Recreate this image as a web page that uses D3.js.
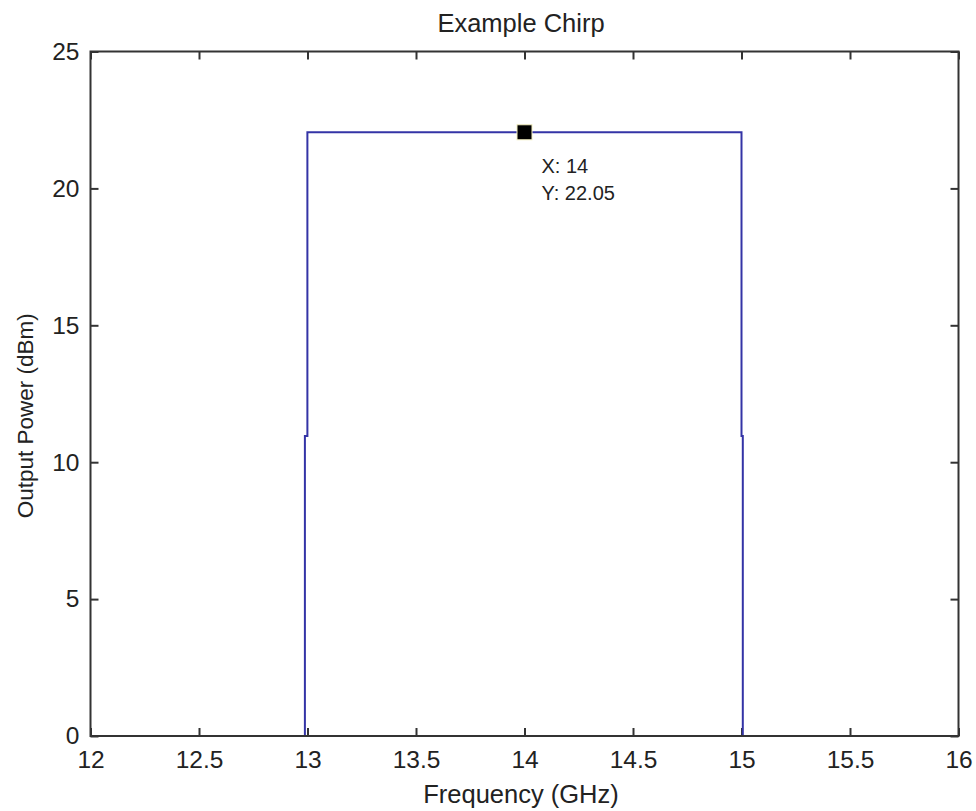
<!DOCTYPE html>
<html>
<head>
<meta charset="utf-8">
<script src="https://cdn.jsdelivr.net/npm/d3@7"></script>
<style>
  html, body { margin: 0; padding: 0; background: #fff; }
  svg text { font-family: "Liberation Sans", Arial, sans-serif; fill: #222; }
</style>
</head>
<body>
<div id="chart"></div>
<script>
// ---- data ----
const freq  = [12, 12.988, 12.988, 12.9995, 12.9995, 14, 15.0, 15.0, 15.006, 15.006, 16];
const power = [0, 0, 10.96, 10.96, 22.05, 22.05, 22.05, 10.96, 10.96, 0, 0];
const xTicks = [12, 12.5, 13, 13.5, 14, 14.5, 15, 15.5, 16];
const yTicks = [0, 5, 10, 15, 20, 25];
const cursorX = [14];
const cursorY = [22.05];
const titleText = "Example Chirp";
const xLabel = "Frequency (GHz)";
const yLabel = "Output Power (dBm)";

// ---- layout ----
const W = 976, H = 811;
const m = { left: 90.5, right: 17.5, top: 51.5, bottom: 75 };
const iw = W - m.left - m.right, ih = H - m.top - m.bottom;

const svg = d3.select("#chart").append("svg").attr("width", W).attr("height", H);
const g = svg.append("g").attr("transform", `translate(${m.left},${m.top})`);

const x = d3.scaleLinear().domain([12, 16]).range([0, iw]);
const y = d3.scaleLinear().domain([0, 25]).range([ih, 0]);

const axisColor = "#333";
const tickLen = 8;

function styleAxis(sel, hideText) {
  sel.select(".domain").remove();
  sel.selectAll(".tick line").attr("stroke", axisColor).attr("stroke-width", 2);
  sel.selectAll(".tick text").style("font-size", "24.5px").attr("fill", "#222");
  if (hideText) sel.selectAll(".tick text").remove();
}

// bottom
g.append("g").attr("transform", `translate(0,${ih})`)
  .call(d3.axisBottom(x).tickValues(xTicks).tickFormat(d3.format("")).tickSizeInner(-tickLen).tickSizeOuter(0).tickPadding(15))
  .call(s => styleAxis(s, false));
// top
g.append("g")
  .call(d3.axisTop(x).tickValues(xTicks).tickSizeInner(-tickLen).tickSizeOuter(0))
  .call(s => styleAxis(s, true));
// left
g.append("g")
  .call(d3.axisLeft(y).tickValues(yTicks).tickFormat(d3.format("")).tickSizeInner(-tickLen).tickSizeOuter(0).tickPadding(11))
  .call(s => styleAxis(s, false));
// right
g.append("g").attr("transform", `translate(${iw},0)`)
  .call(d3.axisRight(y).tickValues(yTicks).tickSizeInner(-tickLen).tickSizeOuter(0))
  .call(s => styleAxis(s, true));

// data line
const pts = freq.map((f, i) => [f, power[i]]);
g.append("path")
  .datum(pts)
  .attr("fill", "none")
  .attr("stroke", "#3434a6")
  .attr("stroke-width", 2)
  .attr("d", d3.line().x(d => x(d[0])).y(d => y(d[1])));

// box
g.append("rect").attr("x", 0).attr("y", 0).attr("width", iw).attr("height", ih)
  .attr("fill", "none").attr("stroke", axisColor).attr("stroke-width", 2);

// data cursor
const cx = x(cursorX[0]), cy = y(cursorY[0]);
g.append("rect").attr("x", cx - 7.5).attr("y", cy - 7.5).attr("width", 15).attr("height", 15)
  .attr("fill", "#000").attr("stroke", "#f3efc0").attr("stroke-width", 1);
g.append("text").attr("x", cx + 17).attr("y", cy + 41).style("font-size", "20px")
  .text("X: " + cursorX[0]);
g.append("text").attr("x", cx + 17).attr("y", cy + 68).style("font-size", "20px")
  .text("Y: " + cursorY[0].toFixed(2));

// title and labels
svg.append("text").attr("x", 521).attr("y", 32).attr("text-anchor", "middle")
  .style("font-size", "25.5px").text(titleText);
svg.append("text").attr("x", 521).attr("y", 803).attr("text-anchor", "middle")
  .style("font-size", "25.5px").text(xLabel);
svg.append("text").attr("transform", `translate(33,${m.top + ih / 2 + 22}) rotate(-90)`)
  .attr("text-anchor", "middle").style("font-size", "22.5px").text(yLabel);
</script>
</body>
</html>
